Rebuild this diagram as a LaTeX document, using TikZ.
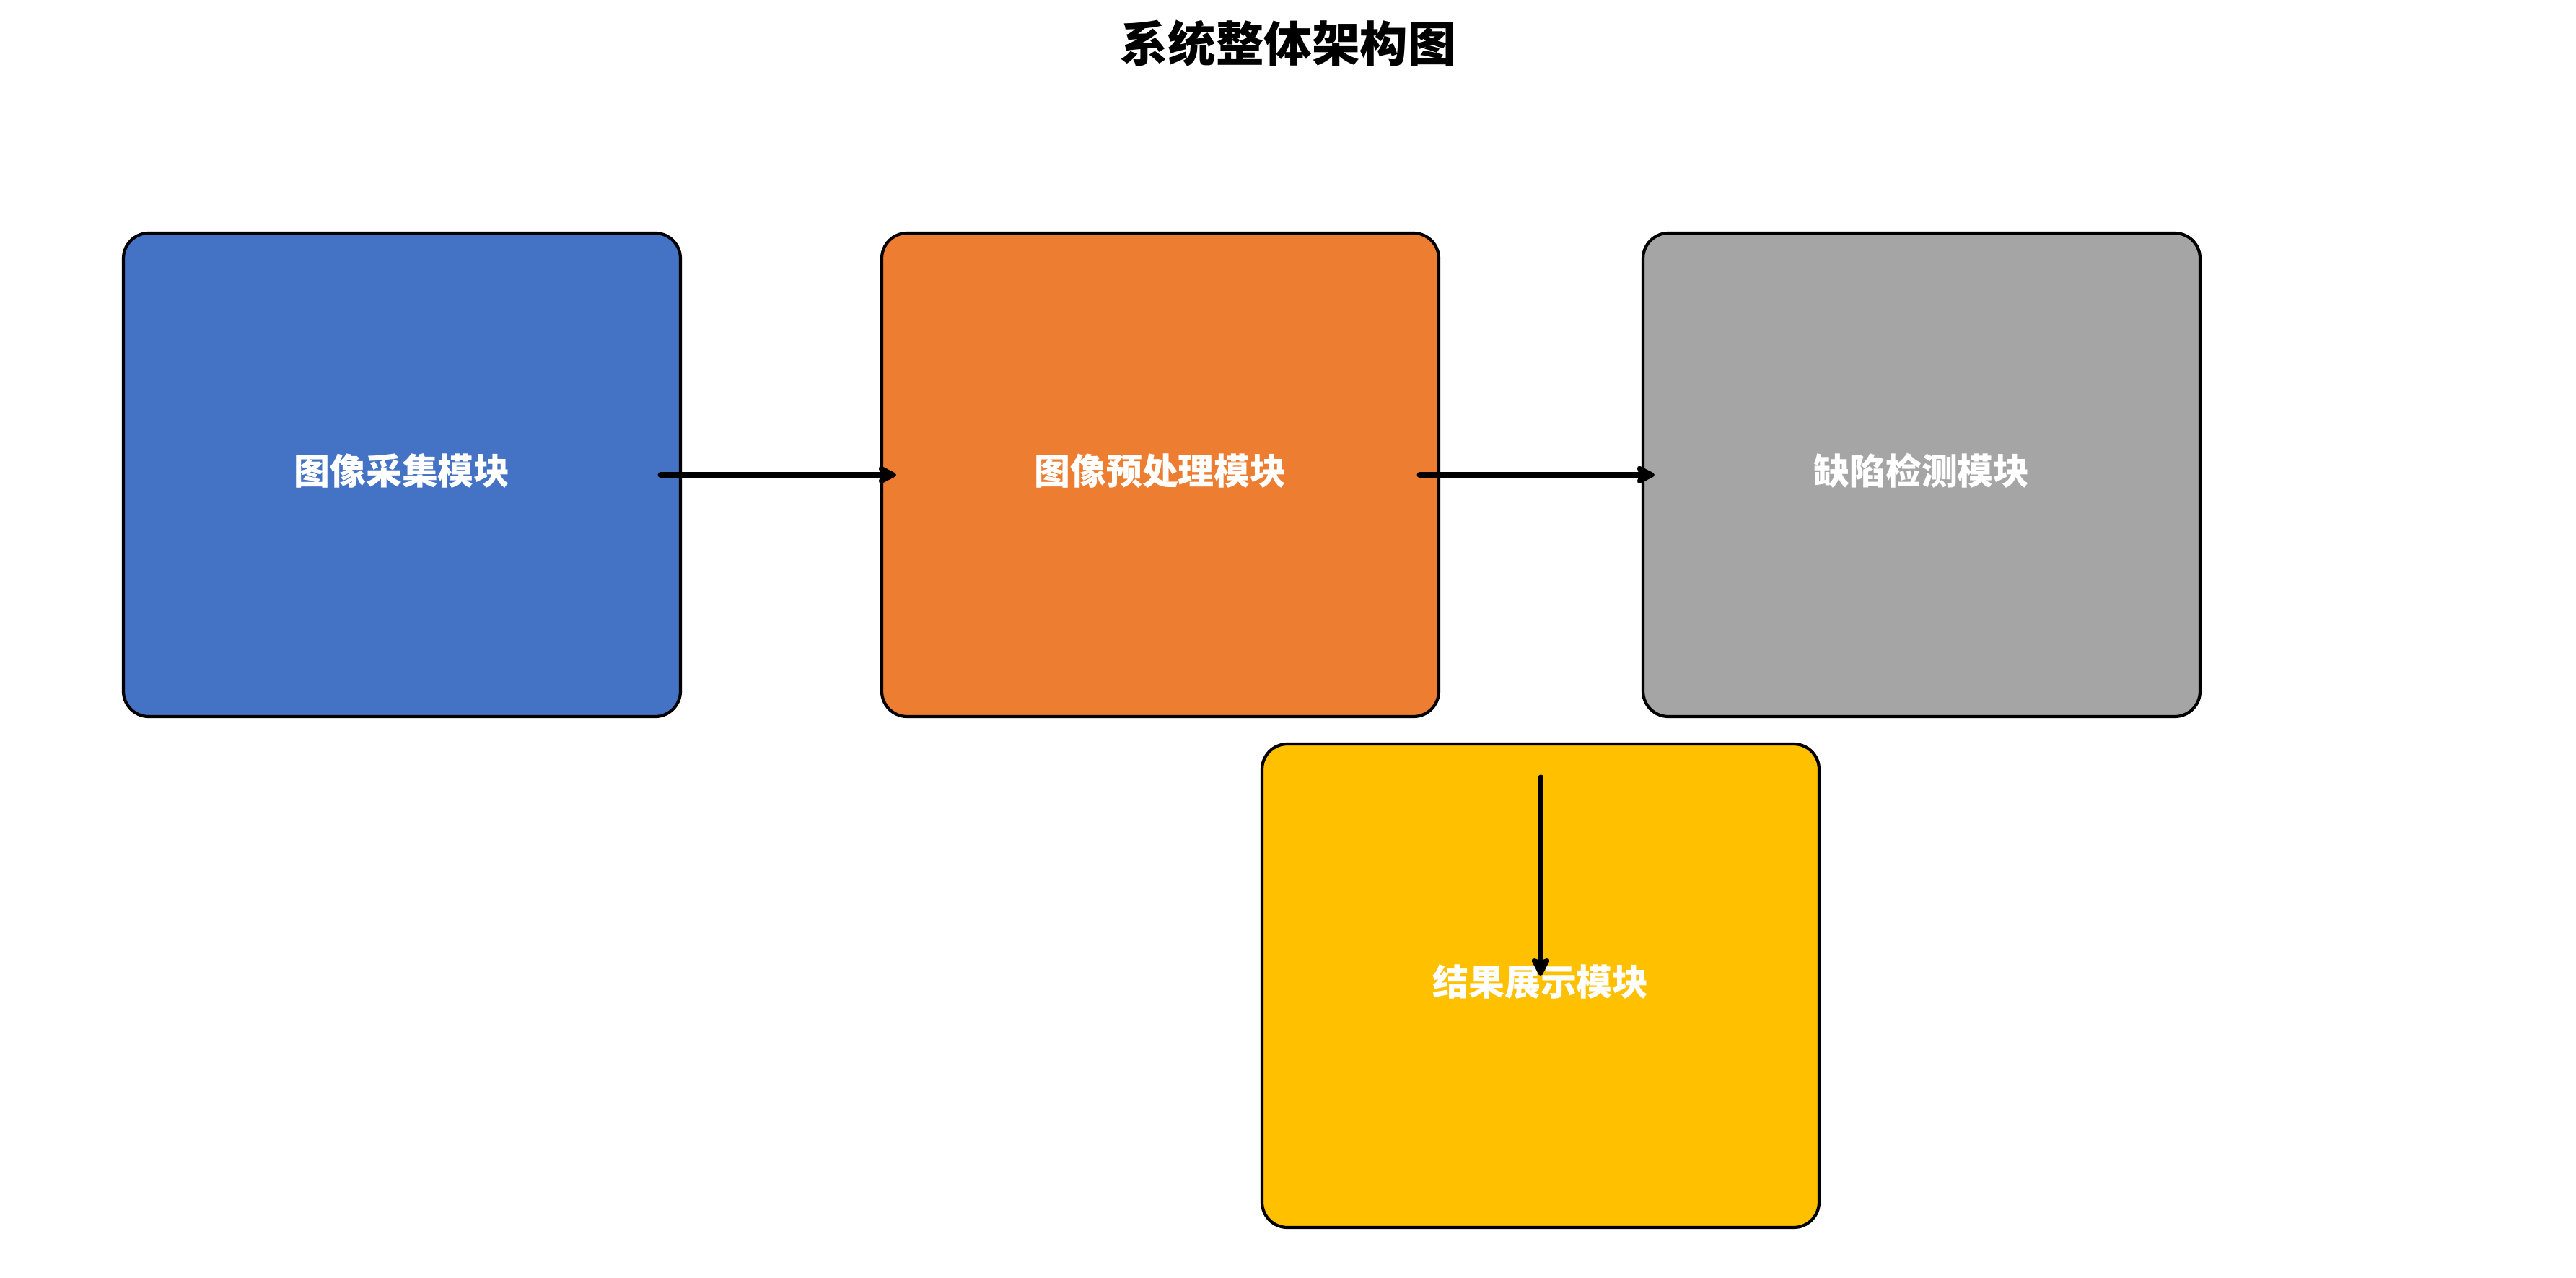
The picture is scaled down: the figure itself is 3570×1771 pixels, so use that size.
\documentclass[tikz,border=0pt]{standalone}
\usepackage{fontspec}
\newfontfamily\cjk{Noto Sans CJK SC}
\usetikzlibrary{arrows.meta,calc}
\definecolor{cblue}{HTML}{4472C4}
\definecolor{corange}{HTML}{ED7D31}
\definecolor{cgray}{HTML}{A5A5A5}
\definecolor{cyellow}{HTML}{FFC000}
\newcommand{\lbl}[1]{\raisebox{1.6pt}[\height][\depth]{#1}}
\tikzset{
  modbox/.style={draw=black, line width=1.2pt, rounded corners=10pt, inner sep=0pt,
    minimum width=77.2mm, minimum height=67mm, text=white,
    font=\cjk\bfseries\fontsize{14.2pt}{16pt}\selectfont},
  flow/.style={line width=2pt, line cap=round, -{Stealth[length=8.5pt,width=8.5pt,inset=1.5pt,round]}}
}
\begin{document}
\begin{tikzpicture}[x=0.1mm,y=-0.1mm]
\useasboundingbox (0,0) rectangle (3570,1771);
\node[font=\cjk\bfseries\fontsize{18.9pt}{21pt}\selectfont] (title) at (1785,60) {系统整体架构图};
\node[modbox, fill=cblue] (b1) at (557,658) {\lbl{图像采集模块}};
\node[modbox, fill=corange] (b2) at (1608,658) {\lbl{图像预处理模块}};
\node[modbox, fill=cgray] (b3) at (2663,658) {\lbl{缺陷检测模块}};
\node[modbox, fill=cyellow] (b4) at (2135,1366) {\lbl{结果展示模块}};
\draw[flow] ($(b1.east)+(-30,0)$) -- ($(b2.west)+(22,0)$);
\draw[flow] ($(b2.east)+(-29,0)$) -- ($(b3.west)+(18,0)$);
\draw[flow] ($(b4.north)+(0,48)$) -- ($(b4.center)+(0,-14)$);
\end{tikzpicture}
\end{document}
